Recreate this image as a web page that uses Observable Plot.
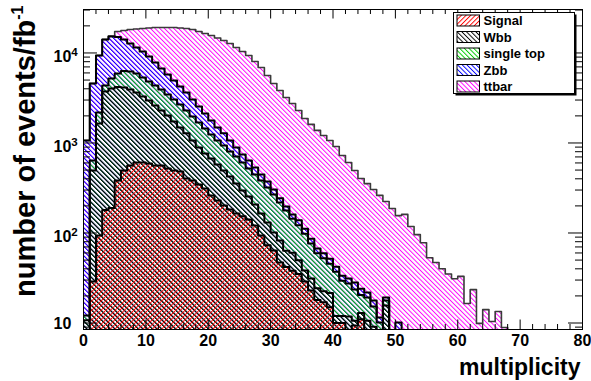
<!DOCTYPE html>
<html>
<head>
<meta charset="utf-8">
<script src="https://cdn.jsdelivr.net/npm/d3@7"></script>
<script src="https://cdn.jsdelivr.net/npm/@observablehq/plot@0.6"></script>
<style>
  html, body { margin: 0; padding: 0; background: #fff; }
  #chart svg { display: block; }
</style>
</head>
<body>
<div id="chart"></div>
<script>
// ---- data (events / fb^-1 per unit bin of multiplicity, bins 0..79) ----
const signal = [0,29,94,180,190,383,495,562,607,607,592,562,562,521,495,482,403,383,346,312,
  261,229,202,182,165,153,141,121,94,73,64,47,42,38,35,29,23,18,17,15,
  10,10,0,9.4,11,0,0,0,0,0,0,0,0,0,0,0,0,0,0,0,0,0,0,0,0,0,0,0,0,0,0,0,0,0,0,0,0,0,0,0];
const wbb = [10.7,466,1556,3550,3840,3807,3645,3368,3033,2683,2378,2048,1728,1499,1235,1008,877,683,545,453,
  411,348,293,242,189,144,113,86,71,58,37,35.5,21.5,22.4,14.9,9.4,8.3,6.4,5.5,6.5,
  2,2,11.8,1.2,1.9,10.6,9.1,0,15.6,0,0,0,0,0,0,0,0,0,0,0,0,0,0,0,0,0,0,0,0,0,0,0,0,0,0,0,0,0,0,0];
const singleTop = [1.4,144,530,620,1180,1730,2170,2300,2280,2050,1850,1740,1640,1440,1310,1190,1010,904,799,685,
  568,489,443,380,354,310,267,240,218,189,167,136,114,84,72,60,45,35,30,24,
  25,17.5,15.7,12.9,7.6,8.6,6.2,10.1,2.2,0,0,0,0,0,0,0,0,0,0,0,0,0,0,0,0,0,0,0,0,0,0,0,0,0,0,0,0,0,0,0];
const zbb = [1054,3941,7200,9780,10050,9140,7820,6520,5590,5050,4320,3490,2790,2310,1910,1560,1350,1070,850,670,
  540,424,342,262,183,138,118,87,64,53,36,24,19,16,17,13,10,8,7,6.3,
  5.1,4,3.7,4.6,3.5,2.6,2.5,1.4,1.4,0,10.1,0,0,0,0,0,0,0,0,0,0,0,0,0,0,0,0,0,0,0,0,0,0,0,0,0,0,0,0,0];
const ttbar = [0,0,0,0,190,2270,3650,5490,6970,8330,9820,11360,12480,13430,14250,14720,15080,15200,14790,14350,
  13870,13190,12490,11680,10620,9645,8741,7506,6453,5247,4276,3588,3003,2589,2152,1758,1523,1313,1151,1014,
  872,692,576,467,379,332,286,250,205,187,146,161,118,96,78,53,47,40,35,31,
  33,16.5,23.5,9.9,14.1,10.4,13.4,8.9,0,0,0,0,0,0,0,0,0,0,0,0];

const seriesNames  = ["Signal", "Wbb", "single top", "Zbb", "ttbar"];
const seriesColors = ["#ff0000", "#000000", "#00cc00", "#0000ff", "#ff00ff"];
const hatchDir     = ["/", "\\", "\\", "\\", "\\"];

const xMajorTicks = [0, 10, 20, 30, 40, 50, 60, 70, 80];
const yMajorTicks = [10, 100, 1000, 10000];
const yTickLabels = ["10", "10^{2}", "10^{3}", "10^{4}"];
const xTitle = "multiplicity";
const yTitle = "number of events/fb^{-1}";

// ---- layout ----
const W = 591, H = 381, mL = 83, mR = 9, mT = 9, mB = 52;
const frameW = W - mL - mR, frameH = H - mT - mB;
const yDomain = [8.47, 30400];
const FLOOR = 1;
const nBins = 80;

const xMinorTicks = d3.range(0, 81, 2).filter(d => d % 10 !== 0);
const yMinorTicks = [];
for (const dec of [1, 10, 100, 1000, 10000]) for (let m = 2; m <= 9; m++) {
  const v = m * dec; if (v >= yDomain[0] && v <= yDomain[1]) yMinorTicks.push(v);
}

// cumulative stack (signal at bottom)
const layers = [signal, wbb, singleTop, zbb, ttbar];
const cumul = [];
let run = new Array(nBins).fill(0);
layers.forEach(s => { run = run.map((v, i) => v + s[i]); cumul.push(run); });
const stepData = cumul.map(c => d3.range(nBins + 1).map(i => ({x: i, y: Math.max(c[Math.min(i, nBins - 1)], FLOOR)})));

const P = 3.3;   // hatch spacing
const LW = 0.95; // hatch line width
function defsMark() {
  const defs = d3.create("svg:defs");
  seriesColors.forEach((c, k) => {
    const p = defs.append("pattern").attr("id", `hatch${k}`)
      .attr("patternUnits", "userSpaceOnUse").attr("width", P).attr("height", 12)
      .attr("patternTransform", `rotate(${hatchDir[k] === "/" ? 45 : -45})`);
    p.append("rect").attr("x", 0).attr("y", 0).attr("width", LW).attr("height", 12).attr("fill", c);
  });
  return defs.node();
}

function legendMark() {
  const g = d3.create("svg:g");
  const bx = 453.5, by = 12.5, bw = 121, bh = 81;
  g.append("rect").attr("x", bx + 2).attr("y", by + 2).attr("width", bw).attr("height", bh).attr("fill", "#000");
  g.append("rect").attr("x", bx).attr("y", by).attr("width", bw).attr("height", bh)
    .attr("fill", "#fff").attr("stroke", "#000").attr("stroke-width", 1);
  seriesNames.forEach((name, k) => {
    const cy = 20.5 + k * 16.5;
    g.append("rect").attr("x", 457).attr("y", cy - 5.5).attr("width", 22.5).attr("height", 11)
      .attr("fill", `url(#hatch${k})`).attr("stroke", "#000").attr("stroke-width", 1);
    g.append("text").attr("x", 483.5).attr("y", cy + 4.6).attr("font-size", 13)
      .attr("text-anchor", "start").attr("font-weight", "bold").attr("fill", "#000").text(name);
  });
  return g.node();
}

const marks = [defsMark];
for (let k = 4; k >= 0; k--) {
  marks.push(Plot.areaY(stepData[k], {x: "x", y1: FLOOR, y2: "y", curve: "step-after", fill: `url(#hatch${k})`, clip: true}));
  marks.push(Plot.lineY(stepData[k], {x: "x", y: "y", curve: "step-after",
    stroke: k === 4 ? "#3a3a3a" : "#000", strokeWidth: k === 4 ? 1.6 : 2, clip: true}));
}
// ticks (inside frame, all four sides)
marks.push(
  Plot.ruleX(xMajorTicks, {x: d => d, insetTop: frameH - 9.5, stroke: "#000"}),
  Plot.ruleX(xMinorTicks, {x: d => d, insetTop: frameH - 5, stroke: "#000"}),
  Plot.ruleX(xMajorTicks, {x: d => d, insetBottom: frameH - 9.5, stroke: "#000"}),
  Plot.ruleX(xMinorTicks, {x: d => d, insetBottom: frameH - 5, stroke: "#000"}),
  Plot.ruleY(yMajorTicks, {y: d => d, insetRight: frameW - 14, stroke: "#000"}),
  Plot.ruleY(yMinorTicks, {y: d => d, insetRight: frameW - 7, stroke: "#000"}),
  Plot.ruleY(yMajorTicks, {y: d => d, insetLeft: frameW - 14, stroke: "#000"}),
  Plot.ruleY(yMinorTicks, {y: d => d, insetLeft: frameW - 7, stroke: "#000"}),
  Plot.frame({stroke: "#000", strokeWidth: 1})
);
// tick labels and titles
marks.push(
  Plot.text(xMajorTicks, {x: d => d, frameAnchor: "bottom", dy: 16.5, lineAnchor: "bottom",
    text: d => String(d), fontSize: 16, fontWeight: "bold", fill: "#000"}),
  Plot.text(yMajorTicks.filter((d, i) => !yTickLabels[i].includes("^")), {y: d => d, frameAnchor: "left", dx: -30, dy: 6,
    textAnchor: "start", lineAnchor: "bottom", text: d => yTickLabels[yMajorTicks.indexOf(d)], fontSize: 16, fontWeight: "bold", fill: "#000"}),
  Plot.text(yMajorTicks.filter((d, i) => yTickLabels[i].includes("^")), {y: d => d, frameAnchor: "left", dx: -30, dy: 9.5,
    textAnchor: "start", lineAnchor: "bottom", text: d => yTickLabels[yMajorTicks.indexOf(d)], fontSize: 16, fontWeight: "bold", fill: "#000"}),
  Plot.text([xTitle], {frameAnchor: "bottom-right", dx: -2, dy: 45.5, textAnchor: "end", lineAnchor: "bottom",
    text: d => d, fontSize: 23, fontWeight: "bold", fill: "#000"}),
  Plot.text([yTitle], {frameAnchor: "top-left", dx: 34 - mL, dy: -4, rotate: -90, textAnchor: "end", lineAnchor: "bottom",
    text: d => d, fontSize: 29, fontWeight: "bold", fill: "#000"}),
  legendMark
);

const chart = Plot.plot({
  width: W, height: H,
  marginLeft: mL, marginRight: mR, marginTop: mT, marginBottom: mB,
  x: {domain: [0, 80], axis: null},
  y: {type: "log", domain: yDomain, axis: null},
  style: {fontFamily: "'Liberation Sans', Arial, Helvetica, sans-serif", background: "#fff", color: "#000"},
  marks
});

// superscripts: "base^{sup}" -> tspans
d3.select(chart).selectAll("text").each(function () {
  const t = this.textContent;
  const m = t.match(/^(.*)\^\{(.*)\}$/);
  if (!m) return;
  const fs = parseFloat(this.getAttribute("font-size")) ||
    parseFloat(this.parentNode && this.parentNode.getAttribute("font-size")) || 16;
  const ratio = fs > 20 ? 0.55 : 0.72;
  this.textContent = "";
  d3.select(this).append("tspan").text(m[1]);
  d3.select(this).append("tspan").attr("font-size", (fs * ratio).toFixed(1) + "px")
    .attr("dy", (-fs * 0.4).toFixed(1) + "px").text(m[2]);
});

document.getElementById("chart").appendChild(chart);
</script>
</body>
</html>
